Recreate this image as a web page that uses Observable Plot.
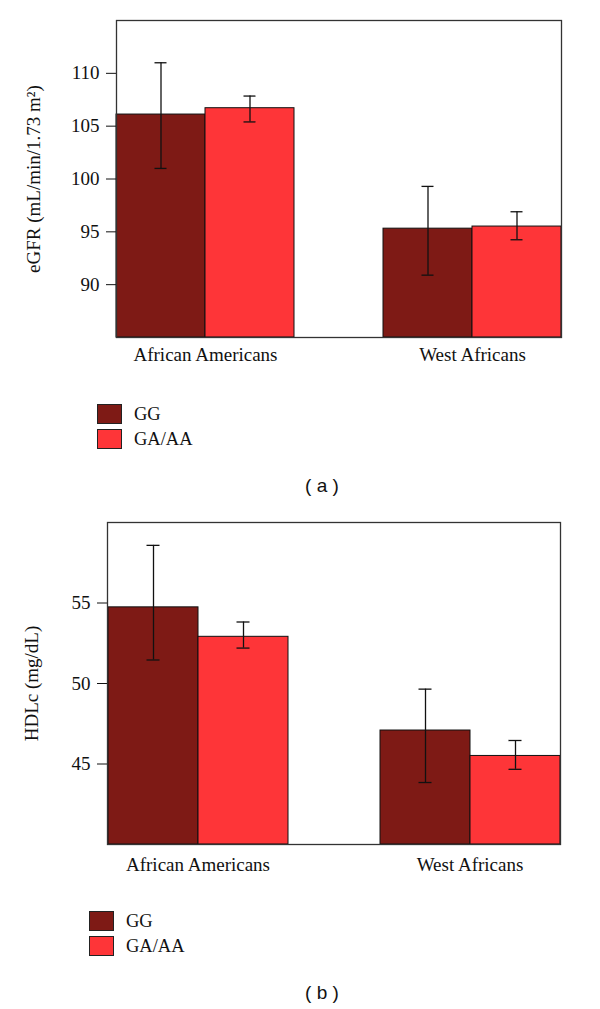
<!DOCTYPE html>
<html><head><meta charset="utf-8">
<script src="https://cdn.jsdelivr.net/npm/d3@7"></script>
<script src="https://cdn.jsdelivr.net/npm/@observablehq/plot@0.6"></script>
<style>
body{margin:0;background:#fff;}
#root{position:relative;width:600px;height:1009px;overflow:hidden;font-family:"Liberation Serif",serif;color:#111;}
.panel{position:absolute;left:0;}
.legend{position:absolute;font-size:18.5px;line-height:1;}
.item{position:absolute;white-space:nowrap;}
.sw{position:absolute;left:0;width:25px;height:20px;border:1px solid #222;box-sizing:border-box;}
.lab{position:absolute;top:1px;}
.caption{position:absolute;width:100px;text-align:center;font-family:"Liberation Sans",Arial,sans-serif;font-size:19px;}
</style></head><body><div id="root"></div>
<script>
// ---- data ----
const populations = ["African Americans", "West Africans"];
const genotypes = ["GG", "GA/AA"];
const genotypeColors = ["#7e1a15", "#fe3538"];

const egfrLabel = "eGFR (mL/min/1.73 m²)";
const egfrDomain = [85, 115];
const egfrTicks = [90, 95, 100, 105, 110];
const egfrMeanGG = [106.1, 95.3];
const egfrLowGG = [101.0, 90.9];
const egfrHighGG = [111.0, 99.3];
const egfrMeanGAAA = [106.7, 95.5];
const egfrLowGAAA = [105.4, 94.25];
const egfrHighGAAA = [107.85, 96.9];

const hdlLabel = "HDLc (mg/dL)";
const hdlDomain = [40, 60];
const hdlTicks = [45, 50, 55];
const hdlMeanGG = [54.73, 47.08];
const hdlLowGG = [51.46, 43.85];
const hdlHighGG = [58.58, 49.65];
const hdlMeanGAAA = [52.9, 45.5];
const hdlLowGAAA = [52.2, 44.67];
const hdlHighGAAA = [53.82, 46.46];

const captions = ["( a )", "( b )"];

function buildRows(mGG, lGG, hGG, mGA, lGA, hGA) {
  const rows = [];
  populations.forEach((pop, i) => {
    rows.push({pop, geno: genotypes[0], mean: mGG[i], lo: lGG[i], hi: hGG[i]});
    rows.push({pop, geno: genotypes[1], mean: mGA[i], lo: lGA[i], hi: hGA[i]});
  });
  return rows;
}

function chart({rows, yDomain, ticks, label, height, marginLeft, marginTop, marginBottom, labelOffset, fxPad}) {
  return Plot.plot({
    width: 600, height, marginLeft, marginRight: 21, marginTop, marginBottom,
    style: {fontFamily: "'Liberation Serif', serif", fontSize: "19px", background: "white", color: "#111", overflow: "visible"},
    fx: {domain: populations, paddingInner: 1/3, paddingOuter: 0.0667},
    x: {domain: genotypes, padding: 0, axis: null},
    y: {domain: yDomain},
    color: {domain: genotypes, range: genotypeColors},
    marks: [
      Plot.axisY({ticks, tickSize: 10, tickPadding: 7, fontSize: 19, label, labelAnchor: "center", labelOffset, labelArrow: "none"}),
      Plot.axisFx({anchor: "bottom", tickSize: 0, tickPadding: fxPad, fontSize: 19, label: null}),
      Plot.barY(rows, {fx: "pop", x: "geno", y1: yDomain[0], y2: "mean", fill: "geno", stroke: "#111", strokeWidth: 1}),
      Plot.ruleX(rows, {fx: "pop", x: "geno", y1: "lo", y2: "hi", stroke: "#111", strokeWidth: 1.3}),
      Plot.tickY(rows, {fx: "pop", x: "geno", y: "lo", stroke: "#111", strokeWidth: 1.3, insetLeft: 38.5, insetRight: 38.5}),
      Plot.tickY(rows, {fx: "pop", x: "geno", y: "hi", stroke: "#111", strokeWidth: 1.3, insetLeft: 38.5, insetRight: 38.5}),
      Plot.frame({facet: "super", stroke: "#333", strokeWidth: 1.3})
    ]
  });
}

function legend(root, left, top) {
  const lg = document.createElement("div");
  lg.className = "legend";
  lg.style.left = left + "px";
  lg.style.top = top + "px";
  genotypes.forEach((g, i) => {
    const it = document.createElement("div");
    it.className = "item";
    it.style.top = (i * 25) + "px";
    const sw = document.createElement("div");
    sw.className = "sw";
    sw.style.background = genotypeColors[i];
    const lab = document.createElement("div");
    lab.className = "lab";
    lab.style.left = "37px";
    lab.textContent = g;
    it.appendChild(sw); it.appendChild(lab);
    lg.appendChild(it);
  });
  root.appendChild(lg);
}

function caption(root, text, top) {
  const c = document.createElement("div");
  c.className = "caption";
  c.style.left = "272px";
  c.style.top = top + "px";
  c.textContent = text;
  root.appendChild(c);
}

const root = document.getElementById("root");

const a = chart({
  rows: buildRows(egfrMeanGG, egfrLowGG, egfrHighGG, egfrMeanGAAA, egfrLowGAAA, egfrHighGAAA),
  yDomain: egfrDomain, ticks: egfrTicks, label: egfrLabel,
  height: 372, marginLeft: 98, marginTop: 20, marginBottom: 35, labelOffset: 90, fxPad: 10
});
a.classList.add("panel"); a.style.top = "0px";
root.appendChild(a);
legend(root, 97, 404);
caption(root, captions[0], 475);

const b = chart({
  rows: buildRows(hdlMeanGG, hdlLowGG, hdlHighGG, hdlMeanGAAA, hdlLowGAAA, hdlHighGAAA),
  yDomain: hdlDomain, ticks: hdlTicks, label: hdlLabel,
  height: 380, marginLeft: 89, marginTop: 22, marginBottom: 36, labelOffset: 83, fxPad: 13
});
b.classList.add("panel"); b.style.top = "500px";
root.appendChild(b);
legend(root, 89, 911);
caption(root, captions[1], 982);
</script></body></html>
